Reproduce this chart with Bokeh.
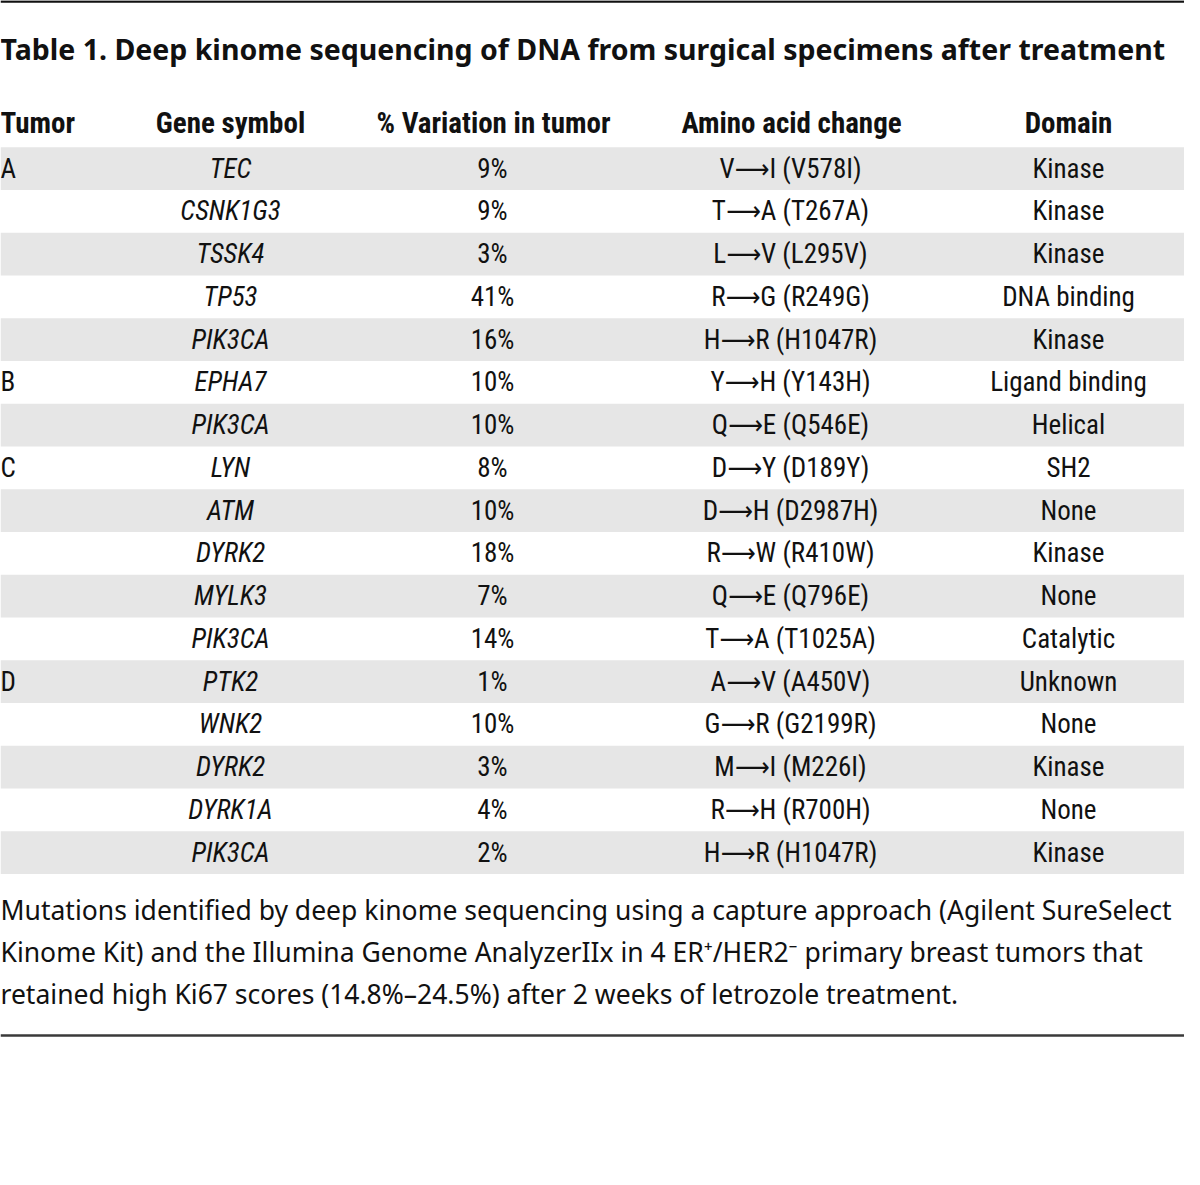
from bokeh.plotting import figure
from bokeh.models import ColumnDataSource, Range1d
from bokeh.core.properties import value
from bokeh.embed import file_html
from bokeh.resources import INLINE

title = "Table 1. Deep kinome sequencing of DNA from surgical specimens after treatment"
headers = ["Tumor", "Gene symbol", "% Variation in tumor", "Amino acid change", "Domain"]
tumors = ["A", "", "", "", "", "B", "", "C", "", "", "", "", "D", "", "", "", ""]
genes = ["TEC", "CSNK1G3", "TSSK4", "TP53", "PIK3CA", "EPHA7", "PIK3CA", "LYN", "ATM",
         "DYRK2", "MYLK3", "PIK3CA", "PTK2", "WNK2", "DYRK2", "DYRK1A", "PIK3CA"]
pct_variation = [9, 9, 3, 41, 16, 10, 10, 8, 10, 18, 7, 14, 1, 10, 3, 4, 2]
aa_change = ["V\u27f6I (V578I)", "T\u27f6A (T267A)", "L\u27f6V (L295V)", "R\u27f6G (R249G)",
             "H\u27f6R (H1047R)", "Y\u27f6H (Y143H)", "Q\u27f6E (Q546E)", "D\u27f6Y (D189Y)",
             "D\u27f6H (D2987H)", "R\u27f6W (R410W)", "Q\u27f6E (Q796E)", "T\u27f6A (T1025A)",
             "A\u27f6V (A450V)", "G\u27f6R (G2199R)", "M\u27f6I (M226I)", "R\u27f6H (R700H)",
             "H\u27f6R (H1047R)"]
domains = ["Kinase", "Kinase", "Kinase", "DNA binding", "Kinase", "Ligand binding", "Helical",
           "SH2", "None", "Kinase", "None", "Catalytic", "Unknown", "None", "Kinase", "None",
           "Kinase"]
footnote = [
    "Mutations identified by deep kinome sequencing using a capture approach (Agilent SureSelect",
    "Kinome Kit) and the Illumina Genome AnalyzerIIx in 4 ER\u207a/HER2\u207b primary breast tumors that",
    "retained high Ki67 scores (14.8%\u201324.5%) after 2 weeks of letrozole treatment.",
]

W, H = 1184, 1169
COND = "Roboto Condensed, Liberation Sans Narrow, DejaVu Sans Condensed, sans-serif"
REG = "Noto Sans, Open Sans, sans-serif"

p = figure(width=W, height=H, output_backend="svg", toolbar_location=None,
           x_range=Range1d(0, W), y_range=Range1d(H, 0), min_border=0)
p.axis.visible = False
p.grid.visible = False
p.outline_line_color = None
p.background_fill_color = "white"
p.border_fill_color = "white"

row_h = 42.75
y0 = 168
n = len(genes)
ys = [y0 + i * row_h for i in range(n)]

# stripes
stripe_y = [ys[i] for i in range(n) if i % 2 == 0]
p.hbar(y=stripe_y, left=0, right=W, height=row_h, fill_color="#e6e6e6", line_color=None)

# rules
p.segment(x0=[0], y0=[1], x1=[W], y1=[1], line_color="#111111", line_width=2.5)
p.segment(x0=[0], y0=[1035], x1=[W], y1=[1035], line_color="#3a3a3a", line_width=2.5)

# title
p.text(x=[0], y=[48], text=[title], text_font=value(REG), text_font_style="bold",
       text_font_size="28.5px", text_baseline="middle", text_align="left", text_color="#111111")

# headers
hx = [0, 230, 493, 791, 1068]
ha = ["left", "center", "center", "center", "center"]
p.text(x=hx, y=[122] * 5, text=headers, text_font=value(COND), text_font_style="bold",
       text_font_size="29px", text_baseline="middle", text_align=ha, text_color="#111111")

src = ColumnDataSource(dict(
    y=ys, tumor=tumors, gene=genes,
    pct=[f"{v}%" for v in pct_variation], aa=aa_change, dom=domains))

common = dict(source=src, y="y", text_font=value(COND), text_font_size="27px",
              text_baseline="middle", text_color="#111111")
p.text(x=0, text="tumor", text_align="left", **common)
p.text(x=230, text="gene", text_align="center", text_font_style="italic", **common)
p.text(x=492, text="pct", text_align="center", **common)
p.text(x=790, text="aa", text_align="center", **common)
p.text(x=1068, text="dom", text_align="center", **common)

# footnote
p.text(x=[0, 0, 0], y=[909, 951, 993], text=footnote, text_font=value(REG),
       text_font_size="26.5px", text_baseline="middle", text_align="left", text_color="#111111")

open("out.html", "w").write(file_html(p, INLINE))
